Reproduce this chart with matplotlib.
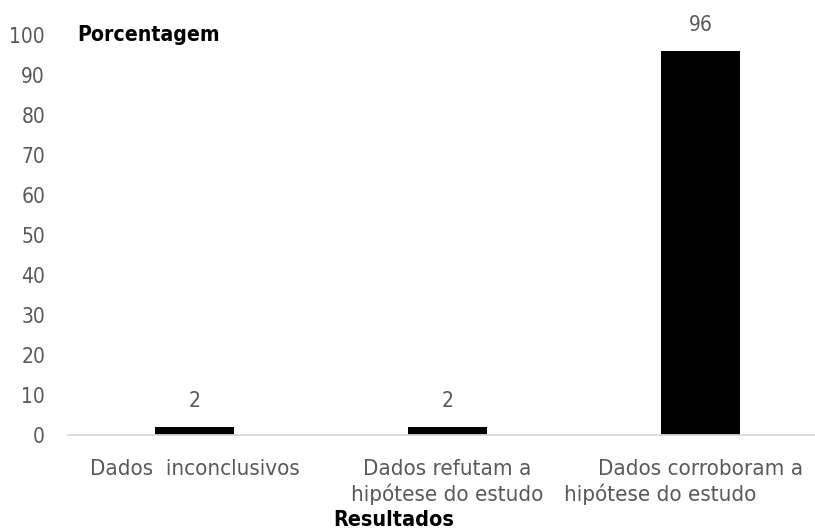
import matplotlib.pyplot as plt

categorias = ['Dados  inconclusivos',
              'Dados refutam a\nhipótese do estudo',
              'Dados corroboram a\nhipótese do estudo']
valores = [2, 2, 96]
yticks = list(range(0, 101, 10))

plt.rcParams['font.family'] = ['DejaVu Sans Condensed', 'DejaVu Sans']
plt.rcParams['font.stretch'] = 'condensed'
cinza = '#595959'

fig = plt.figure(figsize=(8.15, 5.31), dpi=100)
# área do gráfico: eixo x de 68 px até um pouco além da borda direita
ax = fig.add_axes([68 / 815, 1 - 435 / 531, 759 / 815, 400 / 531])

x = range(len(categorias))
barras = ax.bar(x, valores, width=0.316, color='black')
for b, v in zip(barras, valores):
    ax.annotate(str(v), (b.get_x() + b.get_width() / 2, v),
                xytext=(0, 11.5), textcoords='offset points',
                ha='center', va='bottom', fontsize=15, color=cinza)

ax.set_xlim(-0.5, 2.5)
ax.set_ylim(0, 100)
ax.set_yticks(yticks)
ax.set_xticks(list(x))
ax.set_xticklabels([])
ax.tick_params(axis='y', length=0, labelsize=15, labelcolor=cinza, pad=16.5)
ax.tick_params(axis='x', length=0)

# rótulos das categorias linha a linha; a 2ª linha do último rótulo fica deslocada à esquerda
desloc = {(2, 1): -29}
for i, cat in zip(x, categorias):
    for j, linha in enumerate(cat.split('\n')):
        ax.annotate(linha, (i, 0), xycoords=ax.get_xaxis_transform(),
                    xytext=(desloc.get((i, j), 0), -29 - 18.5 * j),
                    textcoords='offset points', ha='center', va='baseline',
                    fontsize=16, color=cinza, annotation_clip=False)

for s in ['top', 'right', 'left']:
    ax.spines[s].set_visible(False)
ax.spines['bottom'].set_color('#d9d9d9')
ax.spines['bottom'].set_linewidth(1.3)

fig.text(77 / 815, 1 - 35 / 531, 'Porcentagem', fontsize=15.2, fontweight='bold',
         ha='left', va='center', color='black')
fig.text(394 / 815, 1 / 531, 'Resultados', fontsize=15.5, fontweight='bold',
         ha='center', va='bottom', color='black')

fig.savefig('out.png', dpi=100)
